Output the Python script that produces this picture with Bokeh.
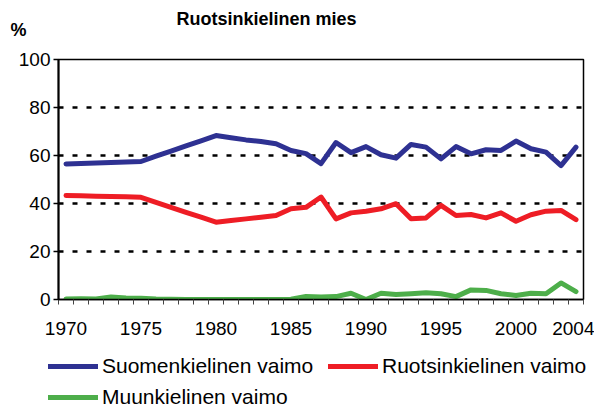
from bokeh.plotting import figure
from bokeh.layouts import column
from bokeh.models import (Range1d, FixedTicker, Legend, LegendItem, Label,
                          ColumnDataSource)
from bokeh.embed import file_html
from bokeh.resources import INLINE

years = list(range(1970, 2005))
suomenkielinen = [56.5, 56.7, 56.9, 57.1, 57.3, 57.5, 59.7, 61.8, 64.0, 66.1,
                  68.3, 67.4, 66.5, 65.8, 64.9, 62.1, 60.8, 56.6, 65.4, 61.2,
                  63.7, 60.3, 58.9, 64.6, 63.5, 58.6, 63.7, 60.7, 62.4, 62.1,
                  66.0, 62.8, 61.4, 55.8, 63.5]
ruotsinkielinen = [43.3, 43.2, 43.0, 42.9, 42.8, 42.6, 40.5, 38.4, 36.3, 34.3,
                   32.2, 32.9, 33.6, 34.3, 35.0, 37.8, 38.4, 42.7, 33.6, 36.1,
                   36.8, 37.8, 39.9, 33.6, 34.0, 39.2, 35.0, 35.4, 34.0, 36.1,
                   32.6, 35.3, 36.8, 37.1, 33.3]
muunkielinen = [0.2, 0.3, 0.2, 1.0, 0.6, 0.5, 0.2, 0.1, 0.0, 0.0,
                0.0, 0.0, 0.0, 0.0, 0.0, 0.1, 1.3, 1.0, 1.2, 2.6,
                0.0, 2.6, 2.1, 2.4, 2.8, 2.4, 1.2, 4.0, 3.8, 2.4,
                1.7, 2.6, 2.4, 6.9, 3.3]
series_names = ["Suomenkielinen vaimo", "Ruotsinkielinen vaimo", "Muunkielinen vaimo"]
x_tick_labels = [1970, 1975, 1980, 1985, 1990, 1995, 2000, 2004]
y_ticks = [0, 20, 40, 60, 80, 100]
title_text = "Ruotsinkielinen mies"
y_unit = "%"

FONT = "Liberation Sans"
colors = ["#2E3192", "#EE1D25", "#4DAE4A"]
W = 594


def blank_fig(h):
    f = figure(width=W, height=h, output_backend="svg", toolbar_location=None,
               x_range=Range1d(0, W), y_range=Range1d(0, h),
               x_axis_type=None, y_axis_type=None, title_location=None,
               min_border=0, min_border_left=0, min_border_right=0,
               min_border_top=0, min_border_bottom=0, frame_align=False)
    f.outline_line_color = None
    f.background_fill_color = "white"
    f.border_fill_color = "white"
    return f


# ---------- top strip: title and unit ----------
top = blank_fig(45)
top.add_layout(Label(x=266, y=45 - 18, text=title_text, text_align="center",
                     text_baseline="middle", text_font=FONT, text_font_style="bold",
                     text_font_size="18px", text_color="black"))
top.add_layout(Label(x=10, y=45 - 29, text=y_unit, text_align="left",
                     text_baseline="middle", text_font=FONT, text_font_style="bold",
                     text_font_size="18px", text_color="black"))

# ---------- main chart ----------
p = figure(width=W, height=300, output_backend="svg", toolbar_location=None,
           x_range=Range1d(1969.5, 2004.5), y_range=Range1d(0, 100),
           title_location=None, frame_align=False,
           min_border_left=58, min_border_right=11, min_border_top=14,
           min_border_bottom=46)
p.background_fill_color = "white"
p.border_fill_color = "white"
p.outline_line_color = "black"
p.outline_line_width = 1.5

p.xgrid.grid_line_color = None
p.ygrid.ticker = FixedTicker(ticks=[20, 40, 60, 80])
p.ygrid.grid_line_color = "black"
p.ygrid.grid_line_width = 2.5
p.ygrid.grid_line_dash = "5 9"

p.xaxis.ticker = FixedTicker(ticks=x_tick_labels,
                             minor_ticks=[y - 0.5 for y in years] + [2004.5])
p.xaxis.major_tick_line_color = None
p.xaxis.major_tick_out = 0
p.xaxis.major_tick_in = 0
p.xaxis.minor_tick_line_color = "#444444"
p.xaxis.minor_tick_line_width = 1
p.xaxis.minor_tick_out = 5
p.xaxis.minor_tick_in = 0
p.xaxis.axis_line_color = "black"
p.xaxis.axis_line_width = 1.5
p.xaxis.major_label_standoff = 17
p.xaxis.major_label_text_font = FONT
p.xaxis.major_label_text_font_size = "19px"
p.xaxis.major_label_text_color = "black"

p.yaxis.ticker = FixedTicker(ticks=y_ticks)
p.yaxis.minor_tick_line_color = None
p.yaxis.major_tick_out = 5
p.yaxis.major_tick_in = 0
p.yaxis.major_tick_line_color = "black"
p.yaxis.major_tick_line_width = 1.5
p.yaxis.axis_line_color = "black"
p.yaxis.axis_line_width = 2
p.yaxis.major_label_standoff = 3
p.yaxis.major_label_text_font = FONT
p.yaxis.major_label_text_font_size = "19px"
p.yaxis.major_label_text_color = "black"

src = ColumnDataSource(dict(x=years, a=suomenkielinen, b=ruotsinkielinen, c=muunkielinen))
for col, c in zip(["a", "b", "c"], colors):
    p.line("x", col, source=src, line_color=c, line_width=5,
           line_join="round", line_cap="round")

# ---------- legend strip ----------
leg = blank_fig(64)
nan = float("nan")
leg_r = []
for c in colors:
    leg_r.append(leg.line(x=[nan], y=[nan], line_color=c, line_width=5,
                          line_cap="round"))
common = dict(orientation="horizontal", padding=0, margin=0, spacing=10,
              glyph_width=50, glyph_height=20, label_standoff=4, label_width=216,
              label_text_font=FONT, label_text_font_size="21px",
              label_text_color="black", border_line_color=None,
              background_fill_alpha=0)
leg_a = Legend(items=[LegendItem(label=series_names[0], renderers=[leg_r[0]]),
                      LegendItem(label=series_names[1], renderers=[leg_r[1]])],
               location=(48, 31), **common)
leg_b = Legend(items=[LegendItem(label=series_names[2], renderers=[leg_r[2]])],
               location=(48, 0), **common)
leg.add_layout(leg_a, "center")
leg.add_layout(leg_b, "center")

layout = column(top, p, leg, spacing=0)
open("out.html", "w").write(file_html(layout, INLINE))
